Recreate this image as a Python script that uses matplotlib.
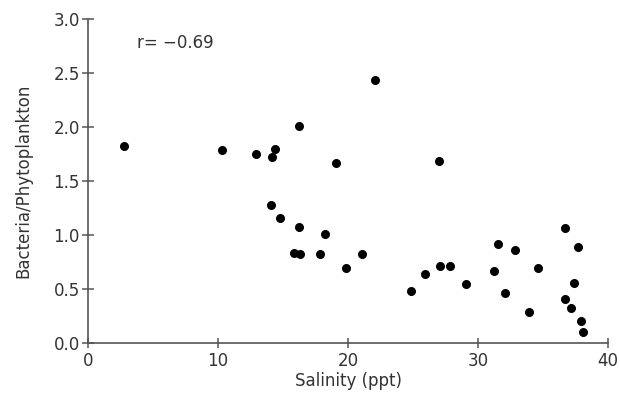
import matplotlib
matplotlib.use("Agg")
from matplotlib import pyplot as plt

# salinity (ppt) and bacteria/phytoplankton ratio
salinity = [2.8, 10.3, 12.9, 14.15, 14.4, 16.25, 22.1, 19.05, 27.0,
            14.05, 14.77, 16.25, 15.8, 16.3, 17.87, 18.25, 19.87, 21.08,
            24.8, 25.9, 27.05, 27.8, 29.05, 31.2, 31.5, 32.1, 32.85,
            33.9, 34.6, 36.7, 37.7, 37.4, 36.7, 37.1, 37.9, 38.05]
ratio = [1.83, 1.79, 1.75, 1.725, 1.80, 2.01, 2.44, 1.67, 1.69,
         1.28, 1.16, 1.08, 0.84, 0.83, 0.83, 1.01, 0.70, 0.83,
         0.48, 0.64, 0.72, 0.72, 0.55, 0.67, 0.92, 0.47, 0.86,
         0.29, 0.70, 1.07, 0.89, 0.56, 0.41, 0.33, 0.21, 0.10]

xticks = [0, 10, 20, 30, 40]
yticks = [0.0, 0.5, 1.0, 1.5, 2.0, 2.5, 3.0]
annot = "r= \u22120.69"

col = "#333333"
fig = plt.figure(figsize=(6.2, 3.93), dpi=100)
ax = fig.add_axes([0.142, 0.1265, 0.839, 0.8245])

ax.scatter(salinity, ratio, s=30, color="black", zorder=3, clip_on=False)

ax.set_xlim(0, 40)
ax.set_ylim(0, 3.0)
ax.set_xticks(xticks)
ax.set_yticks(yticks)
ax.set_yticklabels(["%.1f" % v for v in yticks])

for s in ["top", "right"]:
  ax.spines[s].set_visible(False)
for s in ["left", "bottom"]:
  ax.spines[s].set_color("#555555")
  ax.spines[s].set_linewidth(1.2)

ax.tick_params(axis="both", direction="inout", length=8, width=1.1,
               colors="#555555", labelcolor=col, labelsize=12, pad=2)
ax.tick_params(axis="x", length=7, pad=3)

ax.set_xlabel("Salinity (ppt)", fontsize=12, color=col, labelpad=1)
ax.set_ylabel("Bacteria/Phytoplankton", fontsize=12, color=col, labelpad=15)
ax.text(3.77, 2.78, annot, fontsize=12, color=col, va="center", ha="left")

plt.savefig("out.png", dpi=100)
plt.close()
